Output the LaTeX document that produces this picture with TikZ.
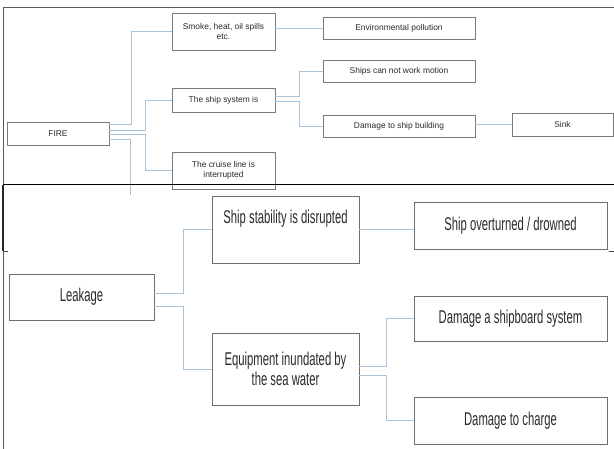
\documentclass[tikz,border=0pt]{standalone}
\usepackage{fontspec}
\setmainfont{Liberation Sans}
\newfontfamily\bigfont[FakeStretch=0.61]{Liberation Sans}
\definecolor{conn}{HTML}{A9C4DA}
\definecolor{boxline}{HTML}{7A7A7A}
\definecolor{txt}{HTML}{2A2A2A}
\tikzset{
  smallbox/.style={draw=boxline, line width=0.7pt, inner sep=0pt, align=center,
    font=\fontsize{8.4}{10}\selectfont, text=txt},
  bigbox/.style={draw=boxline!90!black, line width=0.8pt, inner sep=0pt, align=center,
    font=\bigfont\fontsize{18.5}{20}\selectfont, text=txt},
  link/.style={draw=conn, line width=0.8pt},
  frameline/.style={draw=black, line width=1pt},
  grayframe/.style={draw=black!65, line width=0.9pt}
}
\begin{document}
\begin{tikzpicture}[x=1pt,y=-1pt]
\useasboundingbox (0,0) rectangle (614,449);
\fill[white] (0,0) rectangle (614,449);
% top panel frame
\draw[grayframe] (3,7) -- (614,7);
\draw[grayframe] (3,7) -- (3,185);
% top boxes
\node[smallbox, minimum width=102pt, minimum height=23pt] (fire) at (58,133.5) {FIRE};
\node[smallbox, minimum width=103pt, minimum height=37pt] (smoke) at (223.5,31.5) {Smoke, heat, oil spills\\etc.};
\node[smallbox, minimum width=103pt, minimum height=24pt] (sys) at (223.5,100) {The ship system is};
\node[smallbox, minimum width=103pt, minimum height=37pt] (cruise) at (223.5,170.5) {The cruise line is\\interrupted};
\node[smallbox, minimum width=152pt, minimum height=22pt] (env) at (399,28) {Environmental pollution};
\node[smallbox, minimum width=152pt, minimum height=22pt] (motion) at (399,71) {Ships can not work motion};
\node[smallbox, minimum width=152pt, minimum height=22pt] (dmg) at (399,126) {Damage to ship building};
\node[smallbox, minimum width=101pt, minimum height=23pt] (sink) at (562.5,124.5) {Sink};
\coordinate (down) at (130,195);
% top connectors
\draw[link] ([yshift=9.5pt]fire.east) -| (131,31.5) -- (smoke.west);
\draw[link] ([yshift=3.5pt]fire.east) -| (145,100) -- (sys.west);
\draw[link] ([yshift=-0.5pt]fire.east) -| (145,170.5) -- (cruise.west);
\draw[link] ([yshift=-5.5pt]fire.east) -| (down);
\draw[link] (smoke.east |- env.west) -- (env.west);
\draw[link] ([yshift=4pt]sys.east) -| (299,71) -- (motion.west);
\draw[link] ([yshift=-1pt]sys.east) -| (299,126) -- (dmg.west);
\draw[link] (dmg.east |- sink.west) -- (sink.west);
% bottom boxes
\node[bigbox, minimum width=145pt, minimum height=46pt] (leak) at (81.5,297) {Leakage};
\node[bigbox, minimum width=147pt, minimum height=67pt] (stab) at (285.5,229.5) {Ship stability is disrupted\\\strut};
\node[bigbox, minimum width=147pt, minimum height=72pt] (equip) at (285.5,369) {Equipment inundated by\\the sea water};
\node[bigbox, minimum width=193pt, minimum height=47pt] (over) at (510.5,225.5) {Ship overturned / drowned};
\node[bigbox, minimum width=193pt, minimum height=45pt] (shipb) at (510.5,318.5) {Damage a shipboard system};
\node[bigbox, minimum width=193pt, minimum height=47pt] (charge) at (510.5,420.5) {Damage to charge};
% bottom connectors
\draw[link] ([yshift=4pt]leak.east) -| (183,229.5) -- (stab.west);
\draw[link] ([yshift=-9pt]leak.east) -| (183,369) -- (equip.west);
\draw[link] (stab.east) -- (stab.east -| over.west);
\draw[link] ([yshift=3pt]equip.east) -| (386,318.5) -- (shipb.west);
\draw[link] ([yshift=-6pt]equip.east) -| (386,420.5) -- (charge.west);
% bottom panel frame
\draw[frameline] (3,185) -- (614,185);
\draw[draw=black!85, line width=1.3pt] (3,185) -- (3,251);
\draw[draw=black!70, line width=0.8pt] (3,251) -- (8,251);
\draw[draw=black!70, line width=0.8pt] (609,251) -- (614,251);
\draw[grayframe] (3,251) -- (3,449);
\end{tikzpicture}
\end{document}
